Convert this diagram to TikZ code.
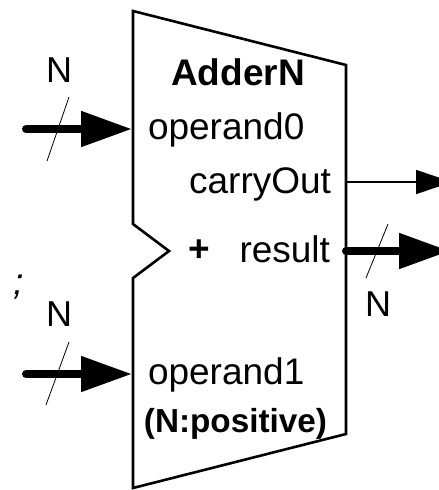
\documentclass[tikz,border=0pt]{standalone}
\usepackage{fontspec}
\setmainfont{Liberation Sans}
\usetikzlibrary{arrows.meta}
\tikzset{
  lbl/.style={inner sep=0pt,outer sep=0pt,font=\fontsize{37}{40}\selectfont},
  blbl/.style={lbl,font=\fontsize{37}{40}\selectfont\bfseries},
  body/.style={line width=2.6pt,line join=miter,fill=white},
  bus/.style={line width=8pt,line cap=round,-{Triangle[length=51pt,width=34pt]}},
  wire/.style={line width=1.7pt,-{Triangle[length=36pt,width=24pt]}},
  slash/.style={line width=0.8pt}
}
\begin{document}
\begin{tikzpicture}[x=1pt,y=-1pt]
\useasboundingbox (0,0) rectangle (439,490);
\draw[body] (133,11) -- (346,65) -- (346,434) -- (133,488) -- (133,278) -- (169,251) -- (133,224) -- cycle;
\coordinate (in0s) at (26,129); \coordinate (in0e) at (132,129);
\coordinate (in1s) at (26,374); \coordinate (in1e) at (132,374);
\coordinate (cos) at (346,182); \coordinate (coe) at (452,182);
\coordinate (rs) at (346,251); \coordinate (re) at (450,251);
\draw[bus] (in0s) -- (in0e);
\draw[bus] (in1s) -- (in1e);
\draw[wire] (cos) -- (coe);
\draw[bus] (rs) -- (re);
\coordinate (s0a) at (69,97); \coordinate (s0b) at (47,161);
\coordinate (s1a) at (69,342); \coordinate (s1b) at (46,405);
\coordinate (s2a) at (388,224); \coordinate (s2b) at (366,278);
\draw[slash] (s0a) -- (s0b);
\draw[slash] (s1a) -- (s1b);
\draw[slash] (s2a) -- (s2b);
\node[lbl,font=\fontsize{36}{40}\selectfont] (n0) at (59,70) {N};
\node[lbl,font=\fontsize{36}{40}\selectfont] (n1) at (59,314) {N};
\node[lbl,font=\fontsize{36}{40}\selectfont] (n2) at (378,304) {N};
\node[lbl] (semi) at (19,287) {\itshape ;};
\node[blbl,anchor=base] (title) at (238,85) {AdderN};
\node[lbl,anchor=base west] (op0) at (148,139) {operand0};
\node[lbl,anchor=base east] (co) at (331,193) {carryOut};
\node[blbl] (plus) at (199,251) {+};
\node[lbl,anchor=base east] (res) at (330,262) {result};
\node[lbl,anchor=base west] (op1) at (148,384) {operand1};
\node[blbl,anchor=base,font=\fontsize{33.3}{36}\selectfont\bfseries] (np) at (235.5,432) {(N:positive)};
\end{tikzpicture}
\end{document}
